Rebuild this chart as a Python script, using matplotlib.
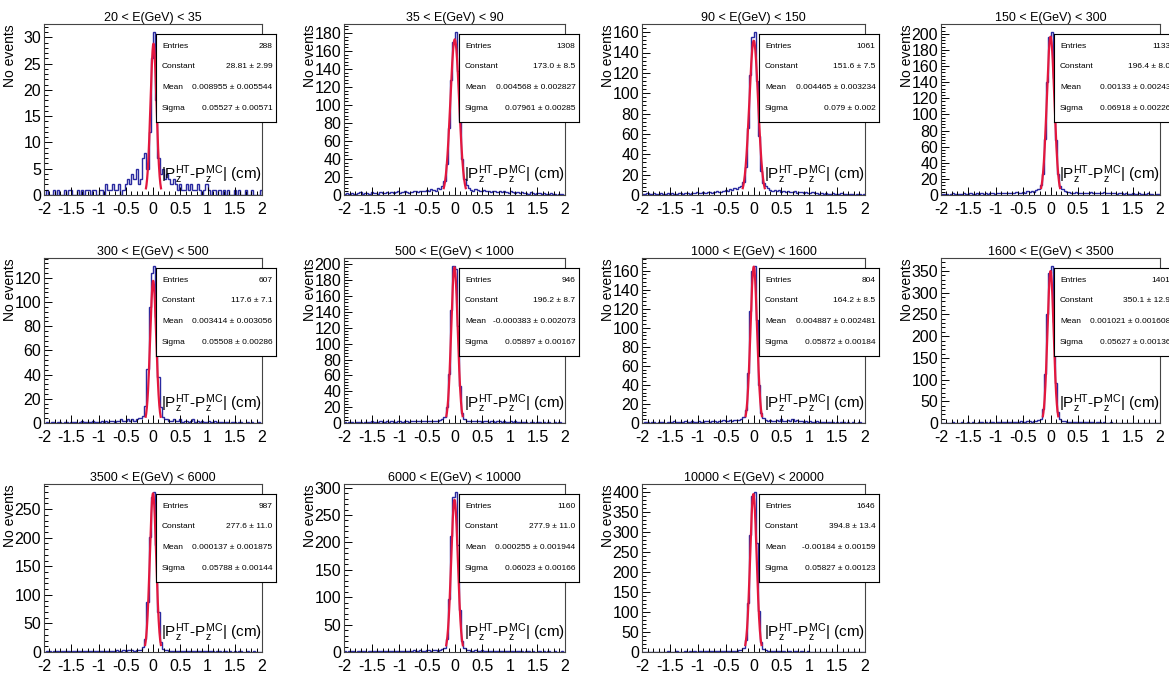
import numpy as np
import matplotlib
matplotlib.use("Agg")
import matplotlib.pyplot as plt
from matplotlib.ticker import MultipleLocator, AutoMinorLocator

plt.rcParams['font.family'] = ['Liberation Sans Narrow', 'Liberation Sans', 'DejaVu Sans']
plt.rcParams['mathtext.fontset'] = 'custom'
plt.rcParams['mathtext.rm'] = 'Liberation Sans'
plt.rcParams['mathtext.it'] = 'Liberation Sans'

# energy bins (panel titles)
titles = ["20 < E(GeV) < 35", "35 < E(GeV) < 90", "90 < E(GeV) < 150", "150 < E(GeV) < 300",
          "300 < E(GeV) < 500", "500 < E(GeV) < 1000", "1000 < E(GeV) < 1600", "1600 < E(GeV) < 3500",
          "3500 < E(GeV) < 6000", "6000 < E(GeV) < 10000", "10000 < E(GeV) < 20000"]

# stat box contents
entries = ["288", "1308", "1061", "1133", "607", "946", "804", "1401", "987", "1160", "1646"]
constant = ["28.81 ± 2.99", "173.0 ± 8.5", "151.6 ± 7.5", "196.4 ± 8.0", "117.6 ± 7.1", "196.2 ± 8.7",
            "164.2 ± 8.5", "350.1 ± 12.9", "277.6 ± 11.0", "277.9 ± 11.0", "394.8 ± 13.4"]
mean = ["0.008955 ± 0.005544", "0.004568 ± 0.002827", "0.004465 ± 0.003234", "0.00133 ± 0.00243",
        "0.003414 ± 0.003056", "-0.000383 ± 0.002073", "0.004887 ± 0.002481", "0.001021 ± 0.001608",
        "0.000137 ± 0.001875", "0.000255 ± 0.001944", "-0.00184 ± 0.00159"]
sigma = ["0.05527 ± 0.00571", "0.07961 ± 0.00285", "0.079 ± 0.002", "0.06918 ± 0.00226",
         "0.05508 ± 0.00286", "0.05897 ± 0.00167", "0.05872 ± 0.00184", "0.05627 ± 0.00136",
         "0.05788 ± 0.00144", "0.06023 ± 0.00166", "0.05827 ± 0.00123"]

# y tick spacing per panel
ystep = [5, 20, 20, 20, 20, 20, 20, 50, 50, 50, 50]

# histogram: 100 bins from -2 to 2
edges = np.linspace(-2, 2, 101)

h1 = [0,1,0,0,1,0,1,0,0,1, 0,1,1,0,0,1,0,1,0,1,
      1,0,1,1,0,1,1,0,2,1, 1,2,1,1,2,0,1,2,3,2,
      4,3,5,2,3,7,8,5,12,26, 31,18,7,4,5,3,4,3,2,3,
      2,1,2,1,1,2,1,2,1,1, 2,1,0,1,2,1,0,1,1,0,
      1,0,1,0,1,0,0,1,0,1, 0,0,1,0,0,1,0,0,0,1]
h2 = [1,2,1,2,1,1,2,3,1,2, 2,1,3,2,2,1,3,2,2,3,
      2,3,2,3,4,2,3,4,3,2, 3,4,5,3,4,5,4,6,5,7,
      6,5,8,7,10,16,34,75,128,170, 181,138,82,40,18,11,8,6,5,7,
      6,5,4,6,5,4,3,5,4,3, 4,3,5,3,2,4,3,2,3,2,
      3,2,2,1,3,2,1,2,2,1, 2,1,1,2,1,1,0,1,1,0]
h3 = [1,1,2,1,1,2,1,1,2,1, 1,2,1,2,1,1,2,2,1,2,
      2,1,2,2,3,2,2,3,2,3, 3,2,3,4,3,3,4,5,4,6,
      5,7,6,8,9,13,28,66,118,155, 160,112,58,24,12,9,7,5,4,5,
      4,5,3,4,3,4,3,3,4,2, 3,3,2,3,2,2,3,2,2,1,
      2,1,2,1,1,2,1,1,1,2, 1,1,0,1,1,0,1,1,0,1]
h4 = [1,1,1,0,1,2,1,1,1,1, 2,1,1,2,1,1,2,1,2,1,
      2,1,2,2,1,2,3,2,2,3, 2,3,3,2,4,3,3,4,3,5,
      4,5,4,6,8,12,26,70,140,196, 202,145,68,26,11,7,5,4,4,3,
      3,4,3,3,2,3,2,3,4,2, 3,2,3,2,4,2,2,3,2,2,
      1,2,2,1,2,1,1,2,1,1, 2,1,1,1,2,1,1,0,1,1]
h5 = [0,1,0,1,1,0,1,1,0,1, 1,0,1,1,1,0,1,2,1,1,
      1,1,2,1,1,1,2,1,2,1, 2,2,1,2,2,3,2,2,3,2,
      3,2,3,4,4,6,14,45,96,124, 130,88,38,13,5,3,3,2,2,3,
      2,2,3,1,2,2,1,2,3,1, 2,1,2,1,1,2,1,1,2,1,
      1,1,0,1,1,0,1,1,0,1, 1,0,0,1,0,1,0,0,1,0]
h6 = [1,0,1,1,0,1,1,1,0,1, 1,1,2,1,1,1,2,1,1,2,
      1,2,1,1,2,2,1,2,2,1, 2,2,3,2,2,3,2,3,3,2,
      3,3,2,4,5,7,20,62,142,198, 194,122,46,13,5,3,2,2,3,2,
      2,3,1,2,2,1,2,3,1,2, 2,1,2,1,1,2,1,2,1,1,
      1,1,1,0,1,1,0,1,1,0, 1,0,1,0,0,1,0,1,0,0]
h7 = [0,1,1,0,1,1,0,1,1,1, 0,1,1,1,2,1,1,1,1,2,
      1,1,2,1,1,2,1,1,2,2, 1,2,2,1,2,2,3,2,2,3,
      2,3,3,3,4,6,14,52,118,160, 165,108,40,11,5,3,2,3,2,2,
      3,2,4,2,2,3,2,4,2,3, 2,2,1,2,1,2,1,1,2,1,
      1,1,0,1,1,1,0,1,0,1, 1,0,1,0,1,0,0,1,0,0]
h8 = [1,1,0,1,1,2,1,1,1,2, 1,1,2,1,2,1,1,2,2,1,
      2,1,2,2,1,2,2,3,2,2, 3,2,3,3,2,3,4,3,3,4,
      4,3,5,4,6,10,32,112,252,345, 362,232,92,26,9,5,4,3,3,2,
      3,2,3,2,2,3,2,2,3,2, 1,2,2,1,2,1,1,2,1,1,
      1,1,1,0,1,1,1,0,1,1, 0,1,0,1,1,0,0,1,0,1]
h9 = [0,1,1,0,1,1,1,0,1,1, 1,1,0,1,1,2,1,1,1,1,
      2,1,1,2,1,2,1,2,2,1, 2,2,2,3,2,2,3,2,3,3,
      3,2,3,4,4,8,22,88,202,272, 280,188,70,18,6,3,3,2,2,2,
      2,2,1,2,2,1,2,1,2,1, 1,2,1,1,2,1,1,1,0,1,
      1,0,1,1,0,1,0,1,0,1, 1,0,0,1,0,0,1,0,0,0]
h10 = [1,0,1,1,1,0,1,1,1,1, 0,1,1,2,1,1,1,1,2,1,
       1,2,1,1,2,1,2,2,1,2, 2,3,2,2,3,2,2,3,3,2,
       3,3,2,4,5,8,24,96,212,282, 292,196,76,20,7,4,3,2,2,3,
       2,2,3,1,2,2,1,2,1,2, 2,1,1,2,1,1,1,0,1,1,
       1,0,1,1,0,1,0,0,1,0, 1,0,1,0,0,1,0,0,1,0]
h11 = [1,1,0,1,1,1,1,0,1,1, 1,2,1,1,1,2,1,1,1,2,
       1,2,1,2,1,2,2,1,2,2, 2,2,3,2,2,3,2,3,2,3,
       3,2,3,4,4,9,30,122,292,390, 400,272,102,26,7,4,3,2,3,2,
       2,3,2,2,1,2,2,1,2,2, 1,2,1,1,2,1,1,1,1,0,
       1,1,0,1,1,0,1,0,1,0, 0,1,0,1,0,0,1,0,0,1]
hists = [h1, h2, h3, h4, h5, h6, h7, h8, h9, h10, h11]

W, H = 1169, 675
fig = plt.figure(figsize=(W / 100, H / 100), dpi=100)

# frame positions in pixels
cols = [(44, 262), (344, 565), (642, 865), (941, 1160)]
rows = [(24, 195), (258, 423), (484, 652)]

hist_col = '#2a2aa0'
fit_col = '#e3173e'

for i in range(11):
    r, c = divmod(i, 4)
    x0, x1 = cols[c]
    y0, y1 = rows[r]
    ax = fig.add_axes([x0 / W, 1 - y1 / H, (x1 - x0) / W, (y1 - y0) / H])
    counts = np.array(hists[i])
    ax.stairs(counts, edges, color=hist_col, lw=1.0)

    # gaussian fit from stat box parameters
    A = float(constant[i].split('±')[0])
    mu = float(mean[i].split('±')[0])
    sg = float(sigma[i].split('±')[0])
    xf = np.linspace(mu - 2.5 * sg, mu + 2.5 * sg, 200)
    ax.plot(xf, A * np.exp(-0.5 * ((xf - mu) / sg) ** 2), color=fit_col, lw=1.6)

    ax.set_xlim(-2, 2)
    ax.set_ylim(0, counts.max() * 1.05)
    ax.xaxis.set_minor_locator(MultipleLocator(0.1))
    ax.yaxis.set_major_locator(MultipleLocator(ystep[i]))
    ax.yaxis.set_minor_locator(AutoMinorLocator(5))
    ax.set_xticks(np.arange(-2, 2.01, 0.5))
    ax.set_xticklabels(['-2', '-1.5', '-1', '-0.5', '0', '0.5', '1', '1.5', '2'])
    ax.tick_params(which='both', direction='in', top=False, right=False, width=0.7, labelsize=11.5)
    ax.tick_params(axis='x', pad=5)
    ax.tick_params(axis='y', pad=2)
    ax.tick_params(which='major', length=6)
    ax.tick_params(which='minor', length=3)
    for s in ax.spines.values():
        s.set_linewidth(0.8)
        s.set_color('#444444')

    ax.text(1.0, 0.05, r'$|\mathrm{P}_{z}^{HT}$-$\mathrm{P}_{z}^{MC}|$ (cm)', transform=ax.transAxes,
            ha='right', va='bottom', fontsize=11)

    fig.text((x0 + x1) / 2 / W, 1 - (y0 - 6) / H, titles[i], ha='center', va='center', fontsize=9)
    fig.text((x0 - 34) / W, 1 - y0 / H, 'No events', rotation=90, ha='center', va='top', fontsize=10)

    # stat box
    bw, bh = 120, 88
    bx = x1 + 14 - bw
    by = y0 + 10
    sb = fig.add_axes([bx / W, 1 - (by + bh) / H, bw / W, bh / H])
    sb.set_xticks([])
    sb.set_yticks([])
    for s in sb.spines.values():
        s.set_linewidth(0.8)
    labels = ['Entries', 'Constant', 'Mean', 'Sigma']
    values = [entries[i], constant[i], mean[i], sigma[i]]
    for k in range(4):
        yy = 0.86 - k * 0.235
        sb.text(0.05, yy, labels[k], ha='left', va='center', fontsize=6, transform=sb.transAxes)
        sb.text(0.97, yy, values[k], ha='right', va='center', fontsize=6, transform=sb.transAxes)

fig.savefig('out.png', dpi=100)
